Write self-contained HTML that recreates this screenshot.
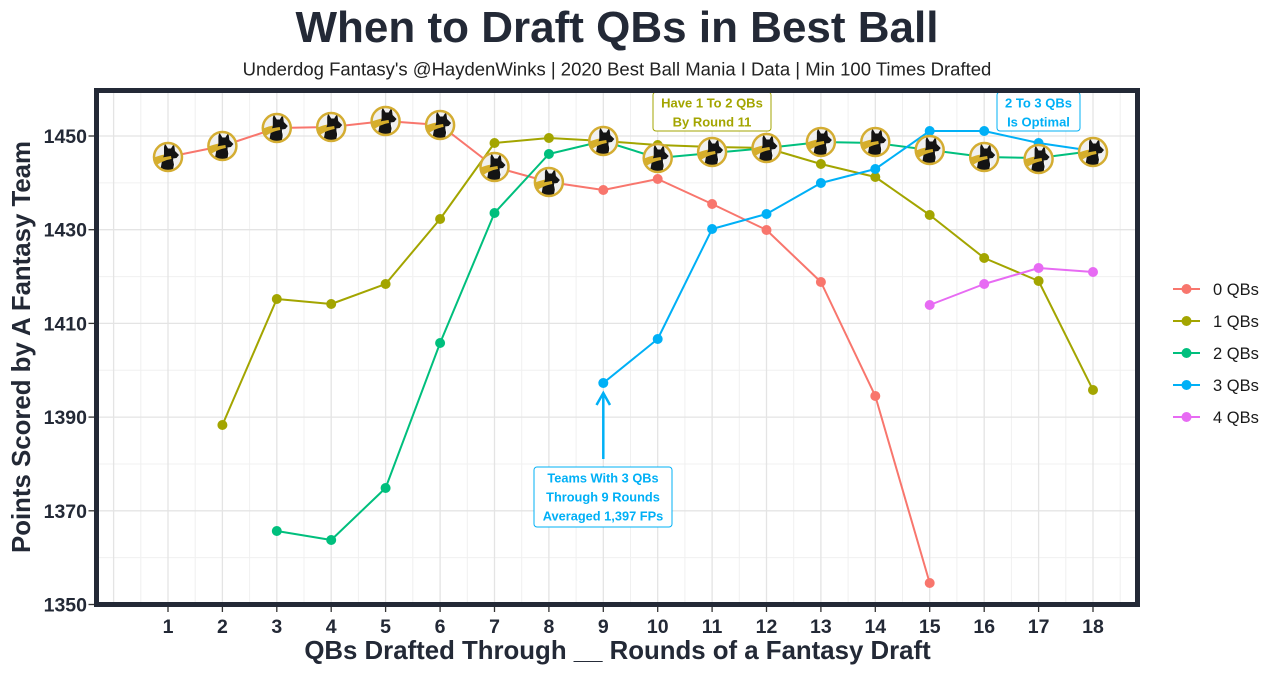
<!DOCTYPE html>
<html><head><meta charset="utf-8"><style>
html,body{margin:0;padding:0;background:#fff;}
svg{display:block;}
text{font-family:"Liberation Sans",Arial,sans-serif;}
</style></head><body>
<svg width="1280" height="675" viewBox="0 0 1280 675" xmlns="http://www.w3.org/2000/svg">
<defs>
<clipPath id="cc"><circle r="13.5" cx="0" cy="0"/></clipPath>
<g id="dog">
<circle r="14" fill="#f0f0f0"/>
<g clip-path="url(#cc)">
<path d="M-15,1 C-8,-2 -2,-3 6,-4 L7,0 C-1,1 -8,5 -14,9 Z" fill="#d6ae2b"/>
<path d="M-8,15 L-6,4 L-4,-2 L-4,-10 L-3,-13.5 L0,-8.5 L3,-8.5 L6,-13.5 L7,-6 L11,-2 L8.5,1 L5,1.5 L6,7 L5,15 Z" fill="#141414"/>
<path d="M-15,3 C-9,1 -4,0 3,-1 L3.5,2 C-3,3 -9,6 -14,10 Z" fill="#d6ae2b"/>
<path d="M5.5,3 L6.5,8 L5,14" stroke="#fff" stroke-width="0.8" fill="none"/>
</g>
<circle r="14" fill="none" stroke="#d4ad32" stroke-width="2.5"/>
</g>
</defs>
<rect width="1280" height="675" fill="#fff"/>

<!-- titles -->
<text x="617" y="42" text-anchor="middle" font-size="44" font-weight="bold" fill="#232936">When to Draft QBs in Best Ball</text>
<text x="617" y="75.5" text-anchor="middle" font-size="18.5" fill="#222">Underdog Fantasy's @HaydenWinks | 2020 Best Ball Mania I Data | Min 100 Times Drafted</text>

<!-- grid minor -->
<g stroke="#f0f0f0" stroke-width="1">
<line x1="140.8" y1="93" x2="140.8" y2="602"/><line x1="195.2" y1="93" x2="195.2" y2="602"/><line x1="249.6" y1="93" x2="249.6" y2="602"/><line x1="304" y1="93" x2="304" y2="602"/><line x1="358.4" y1="93" x2="358.4" y2="602"/><line x1="412.8" y1="93" x2="412.8" y2="602"/><line x1="467.3" y1="93" x2="467.3" y2="602"/><line x1="521.7" y1="93" x2="521.7" y2="602"/><line x1="576.1" y1="93" x2="576.1" y2="602"/><line x1="630.5" y1="93" x2="630.5" y2="602"/><line x1="684.9" y1="93" x2="684.9" y2="602"/><line x1="739.3" y1="93" x2="739.3" y2="602"/><line x1="793.7" y1="93" x2="793.7" y2="602"/><line x1="848.1" y1="93" x2="848.1" y2="602"/><line x1="902.5" y1="93" x2="902.5" y2="602"/><line x1="956.9" y1="93" x2="956.9" y2="602"/><line x1="1011.4" y1="93" x2="1011.4" y2="602"/><line x1="1065.8" y1="93" x2="1065.8" y2="602"/><line x1="1120.2" y1="93" x2="1120.2" y2="602"/>
<line x1="99" y1="557.6" x2="1135" y2="557.6"/><line x1="99" y1="464" x2="1135" y2="464"/><line x1="99" y1="370.3" x2="1135" y2="370.3"/><line x1="99" y1="276.6" x2="1135" y2="276.6"/><line x1="99" y1="182.9" x2="1135" y2="182.9"/>
</g>
<!-- grid major -->
<g stroke="#e4e4e4" stroke-width="1.3">
<line x1="113.6" y1="93" x2="113.6" y2="602"/><line x1="168" y1="93" x2="168" y2="602"/><line x1="222.4" y1="93" x2="222.4" y2="602"/><line x1="276.8" y1="93" x2="276.8" y2="602"/><line x1="331.2" y1="93" x2="331.2" y2="602"/><line x1="385.6" y1="93" x2="385.6" y2="602"/><line x1="440.1" y1="93" x2="440.1" y2="602"/><line x1="494.5" y1="93" x2="494.5" y2="602"/><line x1="548.9" y1="93" x2="548.9" y2="602"/><line x1="603.3" y1="93" x2="603.3" y2="602"/><line x1="657.7" y1="93" x2="657.7" y2="602"/><line x1="712.1" y1="93" x2="712.1" y2="602"/><line x1="766.5" y1="93" x2="766.5" y2="602"/><line x1="820.9" y1="93" x2="820.9" y2="602"/><line x1="875.3" y1="93" x2="875.3" y2="602"/><line x1="929.7" y1="93" x2="929.7" y2="602"/><line x1="984.2" y1="93" x2="984.2" y2="602"/><line x1="1038.6" y1="93" x2="1038.6" y2="602"/><line x1="1093" y1="93" x2="1093" y2="602"/>
<line x1="99" y1="510.8" x2="1135" y2="510.8"/><line x1="99" y1="417.1" x2="1135" y2="417.1"/><line x1="99" y1="323.4" x2="1135" y2="323.4"/><line x1="99" y1="229.7" x2="1135" y2="229.7"/><line x1="99" y1="136" x2="1135" y2="136"/>
</g>

<!-- series lines -->
<g fill="none" stroke-width="2" stroke-linejoin="round">
<polyline stroke="#F8766D" points="168,157 222.4,146 276.8,128 331.2,127 385.6,121 440.1,125 494.5,167 548.9,182 603.3,190 657.7,179 712.1,204 766.5,230 820.9,282 875.3,396 929.7,583"/>
<polyline stroke="#A3A500" points="222.4,425 276.8,299 331.2,304 385.6,284 440.1,219 494.5,143 548.9,138 603.3,141 657.7,145 712.1,147 766.5,148 820.9,164 875.3,177 929.7,215 984.2,258 1038.6,281 1093,390"/>
<polyline stroke="#00BF7D" points="276.8,531 331.2,540 385.6,488 440.1,343 494.5,213 548.9,154 603.3,141 657.7,158 712.1,153 766.5,148 820.9,142 875.3,143 929.7,150 984.2,157 1038.6,158 1093,151"/>
<polyline stroke="#00B0F6" points="603.3,383 657.7,339 712.1,229 766.5,214 820.9,183 875.3,169 929.7,131 984.2,131 1038.6,143 1093,151"/>
<polyline stroke="#E76BF3" points="929.7,305 984.2,284 1038.6,268 1093,272"/>
</g>
<!-- points -->
<g fill="#F8766D"><circle cx="603.3" cy="190" r="5"/><circle cx="657.7" cy="179" r="5"/><circle cx="712.1" cy="204" r="5"/><circle cx="766.5" cy="230" r="5"/><circle cx="820.9" cy="282" r="5"/><circle cx="875.3" cy="396" r="5"/><circle cx="929.7" cy="583" r="5"/></g>
<g fill="#A3A500"><circle cx="222.4" cy="425" r="5"/><circle cx="276.8" cy="299" r="5"/><circle cx="331.2" cy="304" r="5"/><circle cx="385.6" cy="284" r="5"/><circle cx="440.1" cy="219" r="5"/><circle cx="494.5" cy="143" r="5"/><circle cx="548.9" cy="138" r="5"/><circle cx="657.7" cy="145" r="5"/><circle cx="820.9" cy="164" r="5"/><circle cx="875.3" cy="177" r="5"/><circle cx="929.7" cy="215" r="5"/><circle cx="984.2" cy="258" r="5"/><circle cx="1038.6" cy="281" r="5"/><circle cx="1093" cy="390" r="5"/></g>
<g fill="#00BF7D"><circle cx="276.8" cy="531" r="5"/><circle cx="331.2" cy="540" r="5"/><circle cx="385.6" cy="488" r="5"/><circle cx="440.1" cy="343" r="5"/><circle cx="494.5" cy="213" r="5"/><circle cx="548.9" cy="154" r="5"/></g>
<g fill="#00B0F6"><circle cx="603.3" cy="383" r="5"/><circle cx="657.7" cy="339" r="5"/><circle cx="712.1" cy="229" r="5"/><circle cx="766.5" cy="214" r="5"/><circle cx="820.9" cy="183" r="5"/><circle cx="875.3" cy="169" r="5"/><circle cx="929.7" cy="131" r="5"/><circle cx="984.2" cy="131" r="5"/><circle cx="1038.6" cy="143" r="5"/></g>
<g fill="#E76BF3"><circle cx="929.7" cy="305" r="5"/><circle cx="984.2" cy="284" r="5"/><circle cx="1038.6" cy="268" r="5"/><circle cx="1093" cy="272" r="5"/></g>

<!-- icons -->
<use href="#dog" x="168" y="157"/>
<use href="#dog" x="222.4" y="146"/>
<use href="#dog" x="276.8" y="128"/>
<use href="#dog" x="331.2" y="127"/>
<use href="#dog" x="385.6" y="121"/>
<use href="#dog" x="440.1" y="125"/>
<use href="#dog" x="494.5" y="167"/>
<use href="#dog" x="548.9" y="182"/>
<use href="#dog" x="603.3" y="141"/>
<use href="#dog" x="657.7" y="158"/>
<use href="#dog" x="712.1" y="152"/>
<use href="#dog" x="766.5" y="148"/>
<use href="#dog" x="820.9" y="142"/>
<use href="#dog" x="875.3" y="142"/>
<use href="#dog" x="929.7" y="150"/>
<use href="#dog" x="984.2" y="157"/>
<use href="#dog" x="1038.6" y="159"/>
<use href="#dog" x="1093" y="152"/>

<!-- annotations -->
<rect x="653" y="92" width="118" height="39" rx="3" fill="#fff" stroke="#A3A500" stroke-width="1"/>
<text x="712" y="107.5" text-anchor="middle" font-size="13" font-weight="bold" fill="#A3A500">Have 1 To 2 QBs</text>
<text x="712" y="126.5" text-anchor="middle" font-size="13" font-weight="bold" fill="#A3A500">By Round 11</text>

<rect x="997" y="92" width="83" height="39" rx="3" fill="#fff" stroke="#00B0F6" stroke-width="1"/>
<text x="1038.5" y="107.5" text-anchor="middle" font-size="13" font-weight="bold" fill="#00B0F6">2 To 3 QBs</text>
<text x="1038.5" y="126.5" text-anchor="middle" font-size="13" font-weight="bold" fill="#00B0F6">Is Optimal</text>

<line x1="603.3" y1="459" x2="603.3" y2="394" stroke="#00B0F6" stroke-width="2.5"/>
<polyline points="596.5,405 603.3,393 610,405" fill="none" stroke="#00B0F6" stroke-width="2.5"/>
<rect x="534" y="467" width="138" height="60" rx="3" fill="#fff" stroke="#00B0F6" stroke-width="1"/>
<text x="603" y="482.5" text-anchor="middle" font-size="12.8" font-weight="bold" fill="#00B0F6">Teams With 3 QBs</text>
<text x="603" y="501.5" text-anchor="middle" font-size="12.8" font-weight="bold" fill="#00B0F6">Through 9 Rounds</text>
<text x="603" y="520.5" text-anchor="middle" font-size="12.8" font-weight="bold" fill="#00B0F6">Averaged 1,397 FPs</text>

<!-- panel border -->
<rect x="96.5" y="90.5" width="1041" height="514" fill="none" stroke="#232936" stroke-width="5"/>

<!-- ticks -->
<g stroke="#333" stroke-width="1.3">
<line x1="88.5" y1="604.5" x2="94" y2="604.5"/><line x1="88.5" y1="510.8" x2="94" y2="510.8"/><line x1="88.5" y1="417.1" x2="94" y2="417.1"/><line x1="88.5" y1="323.4" x2="94" y2="323.4"/><line x1="88.5" y1="229.7" x2="94" y2="229.7"/><line x1="88.5" y1="136" x2="94" y2="136"/>
<line x1="168" y1="607" x2="168" y2="612"/><line x1="222.4" y1="607" x2="222.4" y2="612"/><line x1="276.8" y1="607" x2="276.8" y2="612"/><line x1="331.2" y1="607" x2="331.2" y2="612"/><line x1="385.6" y1="607" x2="385.6" y2="612"/><line x1="440.1" y1="607" x2="440.1" y2="612"/><line x1="494.5" y1="607" x2="494.5" y2="612"/><line x1="548.9" y1="607" x2="548.9" y2="612"/><line x1="603.3" y1="607" x2="603.3" y2="612"/><line x1="657.7" y1="607" x2="657.7" y2="612"/><line x1="712.1" y1="607" x2="712.1" y2="612"/><line x1="766.5" y1="607" x2="766.5" y2="612"/><line x1="820.9" y1="607" x2="820.9" y2="612"/><line x1="875.3" y1="607" x2="875.3" y2="612"/><line x1="929.7" y1="607" x2="929.7" y2="612"/><line x1="984.2" y1="607" x2="984.2" y2="612"/><line x1="1038.6" y1="607" x2="1038.6" y2="612"/><line x1="1093" y1="607" x2="1093" y2="612"/>
</g>

<!-- tick labels -->
<g font-size="19.5" font-weight="bold" fill="#232936" text-anchor="end">
<text x="87" y="611.5">1350</text><text x="87" y="517.8">1370</text><text x="87" y="424.1">1390</text><text x="87" y="330.4">1410</text><text x="87" y="236.7">1430</text><text x="87" y="143">1450</text>
</g>
<g font-size="19.5" font-weight="bold" fill="#232936" text-anchor="middle">
<text x="168" y="633">1</text><text x="222.4" y="633">2</text><text x="276.8" y="633">3</text><text x="331.2" y="633">4</text><text x="385.6" y="633">5</text><text x="440.1" y="633">6</text><text x="494.5" y="633">7</text><text x="548.9" y="633">8</text><text x="603.3" y="633">9</text><text x="657.7" y="633">10</text><text x="712.1" y="633">11</text><text x="766.5" y="633">12</text><text x="820.9" y="633">13</text><text x="875.3" y="633">14</text><text x="929.7" y="633">15</text><text x="984.2" y="633">16</text><text x="1038.6" y="633">17</text><text x="1093" y="633">18</text>
</g>

<!-- axis titles -->
<text x="617.5" y="659" text-anchor="middle" font-size="25.8" font-weight="bold" fill="#232936">QBs Drafted Through __ Rounds of a Fantasy Draft</text>
<text transform="translate(30,347) rotate(-90)" x="0" y="0" text-anchor="middle" font-size="25.8" font-weight="bold" fill="#232936">Points Scored by A Fantasy Team</text>

<!-- legend -->
<g stroke-width="2">
<line x1="1173" y1="289" x2="1200" y2="289" stroke="#F8766D"/><circle cx="1186.5" cy="289" r="5" fill="#F8766D"/>
<line x1="1173" y1="321" x2="1200" y2="321" stroke="#A3A500"/><circle cx="1186.5" cy="321" r="5" fill="#A3A500"/>
<line x1="1173" y1="353" x2="1200" y2="353" stroke="#00BF7D"/><circle cx="1186.5" cy="353" r="5" fill="#00BF7D"/>
<line x1="1173" y1="385" x2="1200" y2="385" stroke="#00B0F6"/><circle cx="1186.5" cy="385" r="5" fill="#00B0F6"/>
<line x1="1173" y1="417" x2="1200" y2="417" stroke="#E76BF3"/><circle cx="1186.5" cy="417" r="5" fill="#E76BF3"/>
</g>
<g font-size="16.5" fill="#1a1a1a">
<text x="1213" y="295">0 QBs</text>
<text x="1213" y="327">1 QBs</text>
<text x="1213" y="359">2 QBs</text>
<text x="1213" y="391">3 QBs</text>
<text x="1213" y="423">4 QBs</text>
</g>
</svg>
</body></html>
